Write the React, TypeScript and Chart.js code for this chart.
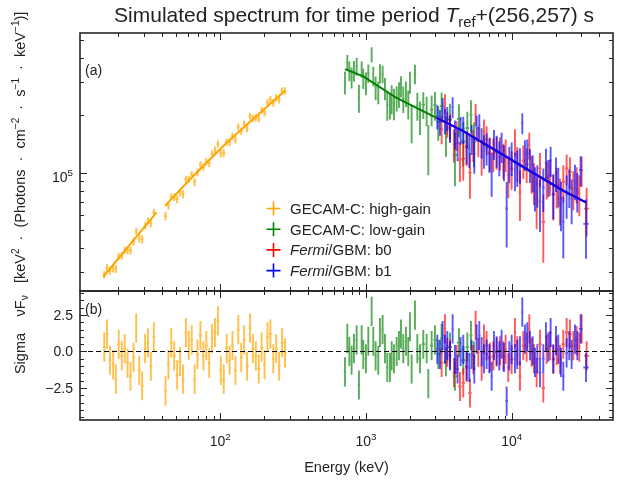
import { useEffect, useRef } from "react";
import { Chart, registerables } from "chart.js";

Chart.register(...registerables);

// ---------------- Data ----------------
// GECAM-C high-gain
const hgEnergy = [16.0, 16.7, 17.5, 18.4, 19.2, 20.1, 21.1, 22.1, 23.1, 24.2, 25.4, 26.5, 27.8, 29.1, 30.5, 31.9, 33.4, 35.0,
  42.1, 44.1, 46.1, 48.3, 50.6, 53.0, 55.5, 58.1, 60.8, 63.7, 66.7, 69.8, 73.1, 76.6, 80.2, 83.9, 87.9, 92.0, 96.4, 100.9,
  105.7, 110.7, 115.9, 121.3, 127.1, 133.0, 139.3, 145.9, 152.8, 160.0, 167.5, 175.4, 183.7, 192.3, 201.4, 210.9, 220.8,
  231.2, 242.1, 253.5, 265.5, 278.0];
const hgFlux = [2.908e4, 3.156e4, 3.040e4, 3.128e4, 3.111e4, 3.629e4, 3.654e4, 3.900e4, 3.888e4, 3.886e4, 4.312e4, 4.912e4,
  4.502e4, 4.463e4, 5.254e4, 5.580e4, 5.415e4, 6.182e4,
  5.912e4, 6.702e4, 7.446e4, 7.423e4, 7.247e4, 7.851e4, 7.695e4, 9.244e4, 9.227e4, 9.747e4, 8.922e4, 1.002e5, 1.099e5,
  1.069e5, 1.143e5, 1.121e5, 1.254e5, 1.321e5, 1.415e5, 1.261e5, 1.268e5, 1.450e5, 1.443e5, 1.559e5, 1.488e5, 1.741e5,
  1.653e5, 1.800e5, 1.712e5, 1.984e5, 1.927e5, 1.944e5, 1.925e5, 2.128e5, 2.079e5, 2.337e5, 2.433e5, 2.327e5, 2.480e5,
  2.422e5, 2.688e5, 2.688e5];
const hgFluxErr = [1.29e3, 1.35e3, 1.41e3, 1.47e3, 1.53e3, 1.60e3, 1.67e3, 1.74e3, 1.81e3, 1.89e3, 1.98e3, 2.06e3, 2.15e3,
  2.25e3, 2.34e3, 2.44e3, 2.55e3, 2.66e3,
  3.03e3, 3.14e3, 3.26e3, 3.39e3, 3.51e3, 3.65e3, 3.79e3, 3.93e3, 4.08e3, 4.23e3, 4.39e3, 4.55e3, 4.71e3, 4.88e3, 5.05e3,
  5.23e3, 5.42e3, 5.62e3, 5.82e3, 6.03e3, 6.24e3, 6.47e3, 6.67e3, 6.89e3, 7.11e3, 7.34e3, 7.57e3, 7.82e3, 8.07e3, 8.33e3,
  8.60e3, 8.87e3, 9.16e3, 9.45e3, 9.75e3, 1.006e4, 1.039e4, 1.071e4, 1.106e4, 1.141e4, 1.178e4, 1.215e4];
const hgResid = [0.3, 1.2, -0.6, -0.9, -1.9, 0.5, -0.3, 0.2, -0.8, -1.7, -0.4, 1.6, -1.3, -2.35, 0.2, 0.6, -1.0, 1.0,
  -2.7, -0.9, 0.6, -0.3, -1.6, -0.7, -1.9, 1.3, 0.4, 0.8, -1.9, -0.2, 1.1, -0.3, 0.4, -0.8, 0.9, 1.3, 2.1, -1.3, -1.9,
  0.2, -0.6, 0.4, -1.3, 1.5, -0.4, 0.8, -1.0, 1.6, 0.2, -0.3, -1.2, 0.3, -0.9, 1.0, 1.2, -0.5, 0.2, -1.0, 0.6, -0.1];
const hgModelE = [15.7, 25.0, 36.6, 39.0, 41.7, 65.3, 110.6, 187.0, 278.0];
const hgModelF = [2.82e4, 4.34e4, 6.17e4, null, 6.68e4, 9.60e4, 1.436e5, 2.06e5, 2.70e5];

// GECAM-C low-gain
const lgEnergy = [718, 745, 769, 797, 827, 863, 895, 934, 959, 1000, 1038, 1094, 1123, 1165, 1215, 1248, 1301, 1350, 1401,
  1461, 1501, 1557, 1624, 1685, 1739, 1804, 1882, 1952, 2005, 2058, 2170, 2252, 2349, 2475, 2609, 2679, 2823, 2976, 3137,
  3306, 3540, 3772, 4081, 4348, 4656, 4962, 5256, 5510];
const lgFlux = [2.993e5, 3.793e5, 3.431e5, 3.171e5, 3.437e5, 3.625e5, 2.482e5, 3.503e5, 3.135e5, 2.957e5, 3.337e5, 4.184e5,
  3.226e5, 2.803e5, 2.653e5, 3.327e5, 3.303e5, 2.777e5, 2.276e5, 2.259e5, 2.454e5, 2.327e5, 2.470e5, 2.589e5, 2.849e5,
  2.447e5, 2.613e5, 2.302e5, 2.995e5, 1.842e5, 3.306e5, 2.252e5, 1.972e5, 2.279e5, 2.132e5, 1.371e5, 2.150e5, 2.265e5,
  1.853e5, 2.240e5, 1.603e5, 1.902e5, 1.235e5, 1.913e5, 1.458e5, 1.718e5, 2.012e5, 1.450e5];
const lgFluxErr = [4.17e4, 3.67e4, 4.08e4, 4.04e4, 4.29e4, 3.94e4, 4.19e4, 3.43e4, 3.82e4, 4.02e4, 3.67e4, 3.85e4, 3.80e4,
  3.99e4, 3.65e4, 3.86e4, 3.53e4, 3.71e4, 4.01e4, 3.56e4, 4.24e4, 4.39e4, 3.73e4, 4.02e4, 3.63e4, 3.91e4, 4.06e4, 4.01e4,
  3.97e4, 4.15e4, 3.85e4, 3.79e4, 3.95e4, 3.66e4, 3.79e4, 4.04e4, 3.96e4, 3.88e4, 3.80e4, 4.01e4, 3.91e4, 3.99e4, 3.88e4,
  3.78e4, 3.83e4, 3.74e4, 3.90e4, 3.83e4];
const lgResid = [-1.4, 0.9, 0.0, -0.6, 0.2, 0.8, -2.3, 0.8, -0.2, -0.5, 0.7, 2.75, 0.7, -0.3, -0.6, 1.3, 1.5, 0.2, -1.1,
  -1.1, -0.3, -0.5, 0.0, 0.4, 1.2, 0.2, 0.7, 0.0, 1.7, -1.2, 2.5, 0.2, -0.5, 0.5, 0.2, -2.2, 0.4, 0.8, -0.2, 0.9, -0.7, 0.3,
  -1.7, 0.6, -0.6, 0.3, 1.1, -0.3];
const lgModelE = [718, 959, 1623, 2750, 3055];
const lgModelF = [3.503e5, 3.207e5, 2.470e5, 2.020e5, 1.941e5];

// Fermi/GBM b0
const b0Energy = [3306, 3485, 3616, 3772, 4018, 4191, 4418, 4656, 4909, 5174, 5454, 5658, 5902, 6221, 6454, 6732, 7097,
  7482, 7886, 8313, 8763, 9091, 9483, 9996, 10536, 10932, 11403, 12022, 12673, 13213, 13709, 14223, 14839, 15643, 16489,
  17378, 18316, 19311, 20350, 21453, 22615, 23836, 25126, 26485, 27923, 29122, 30219, 32701];
const b0Flux = [1.694e5, 2.304e5, 1.807e5, 1.740e5, 1.409e5, 1.584e5, 1.169e5, 1.184e5, 1.358e5, 9.995e4, 1.407e5, 2.028e5,
  1.471e5, 1.224e5, 1.643e5, 1.495e5, 1.272e5, 1.262e5, 1.287e5, 1.279e5, 1.172e5, 1.250e5, 9.739e4, 1.051e5, 1.454e5,
  1.129e5, 7.900e4, 1.157e5, 1.109e5, 1.395e5, 9.980e4, 8.961e4, 7.238e4, 1.052e5, 5.507e4, 9.333e4, 9.614e4, 7.657e4,
  8.504e4, 7.281e4, 8.953e4, 1.050e5, 1.008e5, 8.257e4, 8.770e4, 7.782e4, 1.027e5, 6.462e4];
const b0FluxErr = [2.84e4, 2.84e4, 2.84e4, 2.83e4, 2.80e4, 2.80e4, 2.78e4, 2.78e4, 2.74e4, 2.72e4, 2.71e4, 2.68e4, 2.65e4,
  2.63e4, 2.62e4, 2.60e4, 2.58e4, 2.54e4, 2.51e4, 2.49e4, 2.45e4, 2.45e4, 2.42e4, 2.40e4, 2.36e4, 2.36e4, 2.34e4, 2.31e4,
  2.28e4, 2.27e4, 2.25e4, 2.22e4, 2.20e4, 2.17e4, 2.15e4, 2.12e4, 2.09e4, 2.07e4, 2.04e4, 2.01e4, 1.98e4, 1.96e4, 1.94e4,
  1.92e4, 1.90e4, 1.89e4, 1.87e4, 1.86e4];
const b0Resid = [-0.75, 1.55, -0.05, -0.2, -1.45, -0.55, -2.4, -2.15, -1.1, -2.85, -0.55, 1.8, -0.05, -1.0, 0.85, 0.4,
  -0.4, -0.3, -0.05, 0.05, -0.3, 0.15, -1.1, -0.55, 1.3, 0.05, -1.7, 0.4, 0.3, 1.55, -0.05, -0.5, -1.45, 0.5, -2.5, 0.15,
  0.4, -0.55, 0.05, -0.55, 0.5, 1.3, 1.2, 0.4, 0.75, 0.3, 1.55, -0.3];

// Fermi/GBM b1
const b1Energy = [3088, 3220, 3359, 3485, 3616, 3772, 3934, 4081, 4257, 4464, 4656, 4909, 5120, 5312, 5541, 5748, 5996,
  6221, 6454, 6732, 7022, 7287, 7560, 7886, 8226, 8533, 8856, 9238, 9634, 9996, 10536, 10932, 11403, 11830, 12340, 12803,
  13355, 13930, 14454, 14996, 15643, 16489, 17199, 17844, 18513, 19311, 20137, 20893, 21793, 22615, 23836, 24863, 25797,
  27194, 28215, 29748, 32359];
const b1Flux = [1.973e5, 1.850e5, 2.187e5, 1.886e5, 1.929e5, 1.714e5, 2.215e5, 1.601e5, 1.427e5, 1.680e5, 1.692e5, 1.378e5,
  1.328e5, 1.507e5, 1.256e5, 1.725e5, 1.766e5, 1.447e5, 1.308e5, 1.349e5, 1.256e5, 1.002e5, 1.420e5, 1.310e5, 1.207e5,
  1.371e5, 1.145e5, 6.469e4, 1.121e5, 1.198e5, 1.034e5, 1.076e5, 1.107e5, 1.822e5, 1.250e5, 1.267e5, 1.105e5, 1.011e5,
  8.455e4, 8.736e4, 7.043e4, 8.350e4, 1.121e5, 9.522e4, 1.159e5, 7.741e4, 9.944e4, 8.588e4, 6.915e4, 5.507e4, 7.679e4,
  8.451e4, 7.274e4, 9.063e4, 8.056e4, 1.032e5, 5.370e4];
const b1FluxErr = [2.86e4, 2.85e4, 2.85e4, 2.84e4, 2.84e4, 2.83e4, 2.80e4, 2.80e4, 2.79e4, 2.79e4, 2.78e4, 2.74e4, 2.72e4,
  2.71e4, 2.69e4, 2.67e4, 2.65e4, 2.63e4, 2.62e4, 2.60e4, 2.59e4, 2.57e4, 2.56e4, 2.51e4, 2.50e4, 2.48e4, 2.46e4, 2.44e4,
  2.42e4, 2.40e4, 2.36e4, 2.36e4, 2.34e4, 2.32e4, 2.30e4, 2.27e4, 2.25e4, 2.23e4, 2.21e4, 2.20e4, 2.17e4, 2.15e4, 2.13e4,
  2.11e4, 2.09e4, 2.07e4, 2.05e4, 2.03e4, 2.01e4, 1.98e4, 1.96e4, 1.95e4, 1.93e4, 1.92e4, 1.90e4, 1.88e4, 1.85e4];
const b1Resid = [0.15, -0.2, 1.1, 0.15, 0.4, -0.3, 1.55, -0.55, -1.2, 0.0, 0.15, -1.0, -1.1, -0.2, -1.2, 0.85, 1.1, 0.0,
  -0.5, -0.2, -0.5, -1.7, 0.4, 0.05, -0.3, 0.5, -0.4, -3.4, -0.3, 0.15, -0.5, -0.2, 0.05, 2.7, 0.85, 1.0, 0.4, 0.05, -0.75,
  -0.5, -1.45, -0.5, 1.0, 0.3, 1.3, -0.5, 0.75, 0.15, -0.75, -1.7, -0.1, 0.4, -0.2, 0.85, 0.4, 1.55, -1.1];

// GBM model (shared by b0 and b1)
const gbmModelE = [3055, 4656, 7886, 13355, 22615, 32359];
const gbmModelF = [1.941e5, 1.653e5, 1.299e5, 1.020e5, 8.02e4, 6.97e4];

// Axis ranges and ticks
const xRange = [10.9, 49600];
const fluxRange = [2.38e4, 5.43e5];
const residRange = [-4.7, 4.15];
const xMajorTicks = [1e2, 1e3, 1e4];
const xTickExp = ["2", "3", "4"];
const fluxMajorTicks = [1e5];
const fluxTickExp = ["5"];
const residTicks = [-2.5, 0, 2.5];
const residTickLabels = ["\u22122.5", "0.0", "2.5"];

const legendLabels = [
  [{ t: "GECAM-C: high-gain" }],
  [{ t: "GECAM-C: low-gain" }],
  [{ t: "Fermi", it: true }, { t: "/GBM: b0" }],
  [{ t: "Fermi", it: true }, { t: "/GBM: b1" }],
];

// ---------------- Styling / helpers ----------------
const FONT = '"Liberation Sans", Arial, Helvetica, sans-serif';
const COLORS = ["#FFA500", "#008000", "#FF0000", "#0000FF"];
const BAR_COLORS = ["rgba(255,165,0,0.7)", "rgba(0,128,0,0.65)", "rgba(255,0,0,0.65)", "rgba(0,0,255,0.65)"];

const SERIES = [
  { E: hgEnergy, F: hgFlux, Fe: hgFluxErr, R: hgResid, c: BAR_COLORS[0] },
  { E: lgEnergy, F: lgFlux, Fe: lgFluxErr, R: lgResid, c: BAR_COLORS[1] },
  { E: b0Energy, F: b0Flux, Fe: b0FluxErr, R: b0Resid, c: BAR_COLORS[2] },
  { E: b1Energy, F: b1Flux, Fe: b1FluxErr, R: b1Resid, c: BAR_COLORS[3] },
];

type Seg = { t: string; it?: boolean; sub?: boolean; sup?: boolean };

function segFont(s: Seg, size: number) {
  const sz = s.sub || s.sup ? size * 0.7 : size;
  return `${s.it ? "italic " : ""}${sz}px ${FONT}`;
}

function drawRich(ctx: CanvasRenderingContext2D, segs: Seg[], x: number, y: number, size: number, align: string) {
  let w = 0;
  for (const s of segs) {
    ctx.font = segFont(s, size);
    w += ctx.measureText(s.t).width;
  }
  let cx = align === "left" ? x : align === "center" ? x - w / 2 : x - w;
  ctx.textAlign = "left";
  ctx.textBaseline = "alphabetic";
  for (const s of segs) {
    ctx.font = segFont(s, size);
    const dy = s.sub ? size * 0.22 : s.sup ? -size * 0.42 : 0;
    ctx.fillText(s.t, cx, y + dy);
    cx += ctx.measureText(s.t).width;
  }
}

function halfRatio(E: number[], i: number) {
  const a = i > 0 ? E[i] / E[i - 1] : Infinity;
  const b = i < E.length - 1 ? E[i + 1] / E[i] : Infinity;
  return Math.sqrt(Math.min(a, b));
}

const errorBarPlugin = {
  id: "errorBars",
  beforeDatasetsDraw(chart: any) {
    const ctx: CanvasRenderingContext2D = chart.ctx;
    const xs = chart.scales.x, yf = chart.scales.yflux, yr = chart.scales.yres;
    const L = xs.left, W = xs.right - xs.left;
    for (const s of SERIES) {
      // flux panel
      ctx.save();
      ctx.beginPath();
      ctx.rect(L, yf.top, W, yf.bottom - yf.top);
      ctx.clip();
      ctx.strokeStyle = s.c;
      ctx.lineWidth = 1.9;
      for (let i = 0; i < s.E.length; i++) {
        const hr = halfRatio(s.E, i);
        const px = xs.getPixelForValue(s.E[i]);
        const y0 = yf.getPixelForValue(s.F[i] + s.Fe[i]);
        const y1 = yf.getPixelForValue(Math.max(s.F[i] - s.Fe[i], 1));
        const py = yf.getPixelForValue(s.F[i]);
        ctx.beginPath();
        ctx.moveTo(px, y0);
        ctx.lineTo(px, y1);
        ctx.moveTo(xs.getPixelForValue(s.E[i] / hr), py);
        ctx.lineTo(xs.getPixelForValue(s.E[i] * hr), py);
        ctx.stroke();
      }
      ctx.restore();
      // residual panel
      ctx.save();
      ctx.beginPath();
      ctx.rect(L, yr.top, W, yr.bottom - yr.top);
      ctx.clip();
      ctx.strokeStyle = s.c;
      ctx.lineWidth = 1.9;
      for (let i = 0; i < s.E.length; i++) {
        const hr = halfRatio(s.E, i);
        const px = xs.getPixelForValue(s.E[i]);
        const py = yr.getPixelForValue(s.R[i]);
        ctx.beginPath();
        ctx.moveTo(px, yr.getPixelForValue(s.R[i] + 1));
        ctx.lineTo(px, yr.getPixelForValue(s.R[i] - 1));
        ctx.moveTo(xs.getPixelForValue(s.E[i] / hr), py);
        ctx.lineTo(xs.getPixelForValue(s.E[i] * hr), py);
        ctx.stroke();
      }
      ctx.restore();
    }
    // zero line
    const z = yr.getPixelForValue(0);
    ctx.save();
    ctx.strokeStyle = "#000";
    ctx.lineWidth = 1.2;
    ctx.setLineDash([5, 3]);
    ctx.beginPath();
    ctx.moveTo(L, z);
    ctx.lineTo(xs.right, z);
    ctx.stroke();
    ctx.restore();
  },
};

function logMinor(min: number, max: number, majors: number[]) {
  const out: number[] = [];
  for (let d = Math.pow(10, Math.floor(Math.log10(min))); d <= max; d *= 10) {
    for (let m = 2; m <= 9; m++) {
      const v = m * d;
      if (v > min && v < max && !majors.includes(v)) out.push(v);
    }
  }
  return out;
}

const framePlugin = {
  id: "frame",
  afterDraw(chart: any) {
    const ctx: CanvasRenderingContext2D = chart.ctx;
    const xs = chart.scales.x, yf = chart.scales.yflux, yr = chart.scales.yres;
    const L = xs.left, R = xs.right;
    const MAJ = 7, MIN = 4;
    ctx.save();
    ctx.strokeStyle = "#262626";
    ctx.lineWidth = 1;
    const xMinor = logMinor(xRange[0], xRange[1], xMajorTicks);
    const line = (x0: number, y0: number, x1: number, y1: number) => {
      ctx.beginPath();
      ctx.moveTo(x0, y0);
      ctx.lineTo(x1, y1);
      ctx.stroke();
    };
    for (const p of [yf, yr]) {
      for (const v of xMajorTicks) {
        const px = Math.round(xs.getPixelForValue(v)) + 0.5;
        line(px, p.top, px, p.top + MAJ);
        line(px, p.bottom, px, p.bottom - MAJ);
      }
      for (const v of xMinor) {
        const px = Math.round(xs.getPixelForValue(v)) + 0.5;
        line(px, p.top, px, p.top + MIN);
        line(px, p.bottom, px, p.bottom - MIN);
      }
    }
    const fMinor = logMinor(fluxRange[0], fluxRange[1], fluxMajorTicks);
    for (const v of fluxMajorTicks) {
      const py = Math.round(yf.getPixelForValue(v)) + 0.5;
      line(L, py, L + MAJ, py);
      line(R, py, R - MAJ, py);
    }
    for (const v of fMinor) {
      const py = Math.round(yf.getPixelForValue(v)) + 0.5;
      line(L, py, L + MIN, py);
      line(R, py, R - MIN, py);
    }
    for (let v = Math.ceil(residRange[0] * 2) / 2; v <= residRange[1]; v += 0.5) {
      const major = residTicks.some((t) => Math.abs(t - v) < 1e-9);
      const len = major ? MAJ : MIN;
      const py = Math.round(yr.getPixelForValue(v)) + 0.5;
      line(L, py, L + len, py);
      line(R, py, R - len, py);
    }
    // frames
    ctx.lineWidth = 1.6;
    ctx.strokeRect(L, yf.top, R - L, yf.bottom - yf.top);
    ctx.strokeRect(L, yr.top, R - L, yr.bottom - yr.top);
    ctx.restore();

    // tick labels
    ctx.save();
    ctx.fillStyle = "#222";
    const TS = 14;
    xMajorTicks.forEach((v, i) => {
      const px = xs.getPixelForValue(v);
      drawRich(ctx, [{ t: "10" }, { t: xTickExp[i], sup: true }], px, yr.bottom + 26, TS, "center");
    });
    fluxMajorTicks.forEach((v, i) => {
      const py = yf.getPixelForValue(v);
      drawRich(ctx, [{ t: "10" }, { t: fluxTickExp[i], sup: true }], L - 7, py + 9, TS, "right");
    });
    residTicks.forEach((v, i) => {
      const py = yr.getPixelForValue(v);
      drawRich(ctx, [{ t: residTickLabels[i] }], L - 7, py + 5, TS, "right");
    });
    // axis titles
    drawRich(ctx, [{ t: "Energy (keV)" }], (L + R) / 2, 472, 14.5, "center");
    const yl: Seg[] = [
      { t: "\u03BDF" }, { t: "\u03BD", sub: true }, { t: "   [keV" }, { t: "2", sup: true },
      { t: "  \u00B7  (Photons  \u00B7  cm" }, { t: "\u22122", sup: true }, { t: "  \u00B7  s" },
      { t: "\u22121", sup: true }, { t: "  \u00B7  keV" }, { t: "\u22121", sup: true }, { t: ")]" },
    ];
    ctx.save();
    ctx.translate(25, (yf.top + yf.bottom) / 2 + 2);
    ctx.rotate(-Math.PI / 2);
    drawRich(ctx, yl, 0, 0, 14.5, "center");
    ctx.restore();
    ctx.save();
    ctx.translate(25, (yr.top + yr.bottom) / 2 - 2);
    ctx.rotate(-Math.PI / 2);
    drawRich(ctx, [{ t: "Sigma" }], 0, 0, 14.5, "center");
    ctx.restore();
    // panel labels
    drawRich(ctx, [{ t: "(a)" }], L + 5, yf.top + 42, 14, "left");
    drawRich(ctx, [{ t: "(b)" }], L + 5, yr.top + 23, 14, "left");
    // title
    drawRich(ctx, [{ t: "Simulated spectrum for time period " }, { t: "T", it: true }, { t: "ref", sub: true },
      { t: "+(256,257) s" }], 354, 22, 21, "center");
    // legend
    const rows = [208.5, 229.2, 249.9, 270.6];
    rows.forEach((ry, i) => {
      ctx.strokeStyle = COLORS[i];
      ctx.lineWidth = 1.6;
      ctx.beginPath();
      ctx.moveTo(266.5, ry);
      ctx.lineTo(280.5, ry);
      ctx.moveTo(273.5, ry - 7);
      ctx.lineTo(273.5, ry + 7);
      ctx.stroke();
      ctx.fillStyle = "#222";
      drawRich(ctx, legendLabels[i] as Seg[], 290, ry + 5.5, 15, "left");
    });
    ctx.restore();
  },
};

export default function App() {
  const ref = useRef<HTMLCanvasElement>(null);
  useEffect(() => {
    const pts = (E: number[], F: (number | null)[]) => E.map((e, i) => ({ x: e, y: F[i] }));
    const chart = new Chart(ref.current!, {
      type: "scatter",
      data: {
        datasets: [
          { data: pts(gbmModelE, gbmModelF) as any, showLine: true, borderColor: COLORS[3], borderWidth: 2.2, pointRadius: 0, yAxisID: "yflux", order: 1 },
          { data: pts(gbmModelE, gbmModelF) as any, showLine: true, borderColor: COLORS[2], borderWidth: 2.2, pointRadius: 0, yAxisID: "yflux", order: 2 },
          { data: pts(lgModelE, lgModelF) as any, showLine: true, borderColor: COLORS[1], borderWidth: 2, pointRadius: 0, yAxisID: "yflux", order: 3 },
          { data: pts(hgModelE, hgModelF) as any, showLine: true, spanGaps: false, borderColor: COLORS[0], borderWidth: 2, pointRadius: 0, yAxisID: "yflux", order: 4 },
        ],
      },
      options: {
        responsive: false,
        animation: false,
        devicePixelRatio: 1,
        layout: { padding: { top: 33, right: 12, left: 0, bottom: 0 } },
        plugins: { legend: { display: false }, tooltip: { enabled: false }, title: { display: false } },
        scales: {
          x: {
            type: "logarithmic", min: xRange[0], max: xRange[1], position: "bottom",
            grid: { display: false }, border: { display: false }, ticks: { display: false },
            afterFit: (s: any) => { s.height = 61; },
          },
          yres: {
            type: "linear", min: residRange[0], max: residRange[1], position: "left",
            stack: "v", stackWeight: 1, weight: 1,
            grid: { display: false }, border: { display: false }, ticks: { display: false },
            afterFit: (s: any) => { s.width = 80; },
          },
          yflux: {
            type: "logarithmic", min: fluxRange[0], max: fluxRange[1], position: "left",
            stack: "v", stackWeight: 2, weight: 2,
            grid: { display: false }, border: { display: false }, ticks: { display: false },
            afterFit: (s: any) => { s.width = 80; },
          },
        },
      } as any,
      plugins: [errorBarPlugin, framePlugin],
    });
    return () => chart.destroy();
  }, []);
  return (
    <div style={{ position: "absolute", left: 0, top: 0, width: 625, height: 481, background: "#fff" }}>
      <canvas ref={ref} width={625} height={481} style={{ width: 625, height: 481, display: "block" }} />
    </div>
  );
}
